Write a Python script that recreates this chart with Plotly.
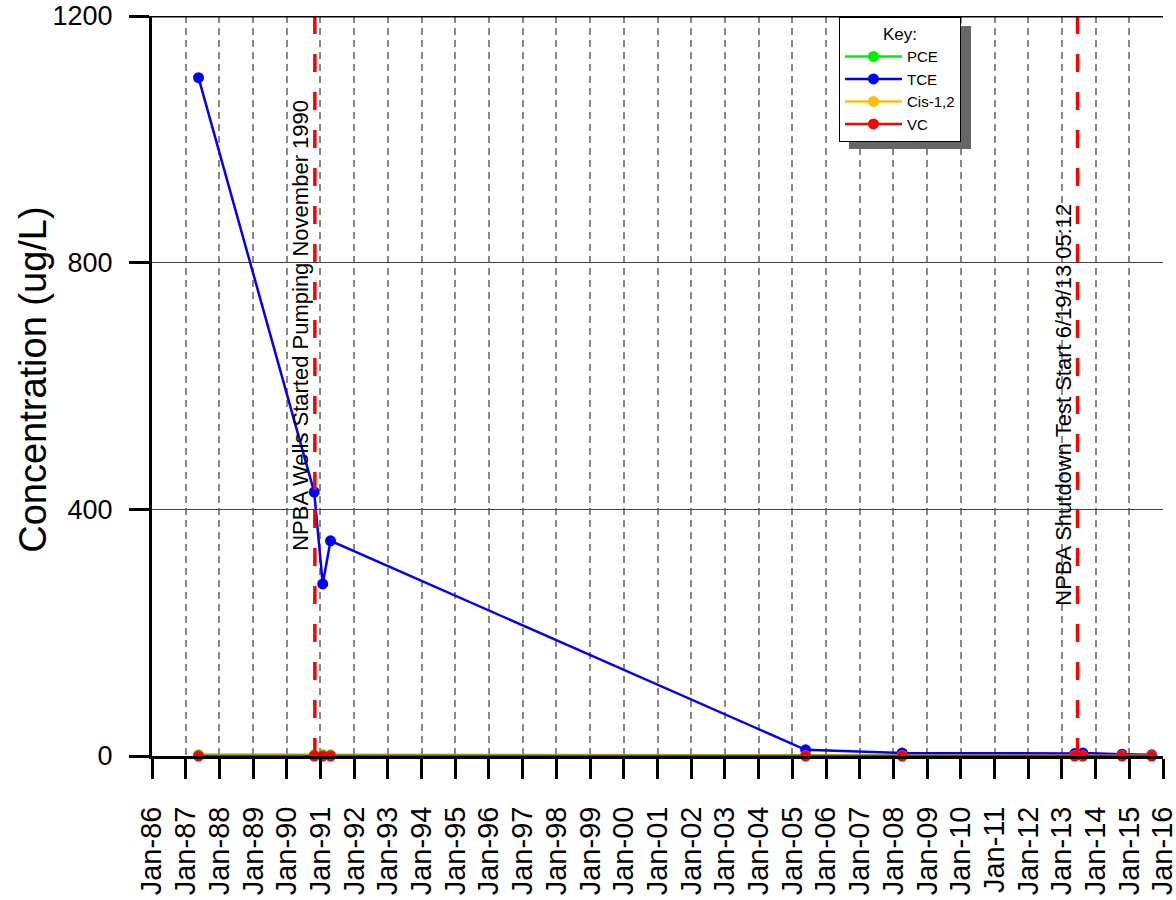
import plotly.graph_objects as go

# sample dates
dates = ["1987-05-20", "1990-10-25", "1991-01-25", "1991-04-20", "2005-05-25",
         "2008-04-05", "2013-05-20", "2013-08-15", "2014-10-15", "2015-09-01"]

pce = [2, 2, 2, 2, 1, 1, 1, 1, 1, 1]
tce = [1100, 428, 279, 349, 10, 5, 4, 5, 3, 2]
cis12 = [0.5, 0.5, 0.5, 0.5, 0.5, 0.5, 0.5, 0.5, 0.5, 0.5]
vc = [0, 0, 0, 0, 0, 0, 0, 0, 0, 0]

series = [
    ("PCE", pce, "#00ee00"),
    ("TCE", tce, "#0000ff"),
    ("Cis-1,2", cis12, "#ffc000"),
    ("VC", vc, "#ff0000"),
]

events = [
    ("1990-11-01", "NPBA Wells Started Pumping November 1990", 699),
    ("2013-06-19", "NPBA Shutdown Test Start 6/19/13 05:12", 569),
]

fig = go.Figure()

for name, vals, col in series:
    fig.add_trace(go.Scatter(
        x=dates, y=vals, name=name, mode="lines+markers",
        line=dict(color=col, width=2.5),
        marker=dict(color=col, size=11),
        cliponaxis=False,
    ))

# red dashed event lines with rotated labels
for d, label, ypos in events:
    fig.add_shape(type="line", xref="x", yref="paper", x0=d, x1=d, y0=0, y1=1,
                  line=dict(color="#ff0000", width=3.5, dash="18px,20px"), layer="above")
    fig.add_annotation(x=d, y=ypos, xref="x", yref="y", text=label,
                       textangle=-90, showarrow=False, xshift=-14,
                       font=dict(size=22, color="black"))

# thick top border
fig.add_shape(type="line", xref="paper", yref="y", x0=-0.02, x1=1, y0=1200, y1=1200,
              line=dict(color="black", width=3), layer="above")

# legend drop shadow
fig.add_shape(type="rect", xref="paper", yref="paper",
              x0=0.6894, x1=0.8101, y0=0.8203, y1=0.9865,
              fillcolor="#666666", line=dict(width=0), layer="above")

# y axis title
fig.add_annotation(xref="paper", yref="paper", x=-0.118, y=0.508,
                   xanchor="center", yanchor="middle",
                   text="Concentration (ug/L)", textangle=-90, showarrow=False,
                   font=dict(size=38, color="black"))

fig.update_layout(
    width=1176, height=900,
    paper_bgcolor="white", plot_bgcolor="white",
    font=dict(family="Liberation Sans, Arial, sans-serif", color="black"),
    margin=dict(l=152, r=13, t=16, b=144),
    showlegend=True,
    legend=dict(
        x=0.6795, y=0.9986, xanchor="left", yanchor="top",
        bgcolor="white", bordercolor="black", borderwidth=1,
        font=dict(size=15), itemwidth=57,
        title=dict(text="Key:", side="top center", font=dict(size=17)),
    ),
    xaxis=dict(
        type="date", range=["1986-01-01", "2016-01-01"], automargin=False,
        dtick="M12", tick0="1986-01-01", tickformat="%b-%y", tickangle=-90,
        tickfont=dict(size=29), ticklabelstandoff=16, ticklabeloverflow="allow",
        ticks="outside", ticklen=20, tickwidth=3, tickcolor="black",
        showline=True, linewidth=3, linecolor="black",
        showgrid=True, gridcolor="#888888", gridwidth=2, griddash="7px,5px",
        zeroline=False,
    ),
    yaxis=dict(
        range=[0, 1200], tickvals=[0, 400, 800, 1200], automargin=False,
        tickfont=dict(size=27), ticklabelstandoff=11, ticklabeloverflow="allow",
        ticks="outside", ticklen=20, tickwidth=3, tickcolor="black",
        showline=True, linewidth=3, linecolor="black",
        showgrid=True, gridcolor="#444444", gridwidth=1,
        zeroline=False,
    ),
)

# drop the default page margin so the figure sits at the window corner
fig.write_html("out.html", config={"displayModeBar": False},
               post_script="document.body.style.margin='0';")
